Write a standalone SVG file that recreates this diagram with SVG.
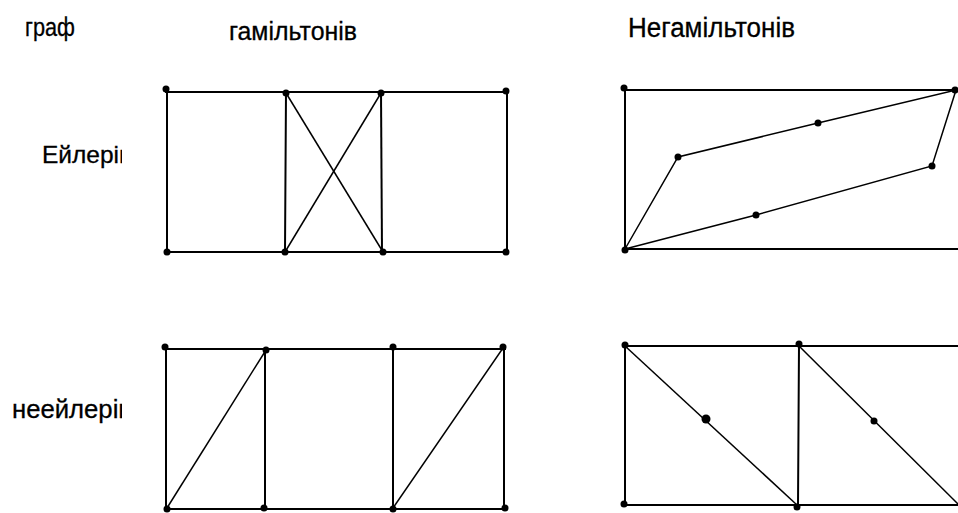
<svg xmlns="http://www.w3.org/2000/svg" width="958" height="513" viewBox="0 0 958 513">
<style>
.e{stroke:#000;stroke-width:2;fill:none;stroke-linecap:square}
.d{stroke:#000;stroke-width:1.5;fill:none}
.v{fill:#000}
.t{font-family:"Liberation Sans",Arial,sans-serif;fill:#000;stroke:#000;stroke-width:0.3}
</style>
<defs>
<clipPath id="clipL"><rect x="0" y="0" width="122" height="513"/></clipPath>
</defs>
<rect width="958" height="513" fill="#fff"/>
<g id="labels" class="t">
<text x="25" y="36" font-size="25" textLength="50" lengthAdjust="spacingAndGlyphs">граф</text>
<text x="229" y="40" font-size="25" textLength="128" lengthAdjust="spacingAndGlyphs">гамільтонів</text>
<text x="628" y="37" font-size="27" textLength="167" lengthAdjust="spacingAndGlyphs">Негамільтонів</text>
<g clip-path="url(#clipL)">
<text x="42" y="163" font-size="24" textLength="90" lengthAdjust="spacingAndGlyphs">Ейлерів</text>
<text x="12" y="418" font-size="25" textLength="120" lengthAdjust="spacingAndGlyphs">неейлерів</text>
</g>
</g>
<g id="connectors">
<line class="e" x1="166" y1="92" x2="507" y2="92"/>
<line class="e" x1="167" y1="252" x2="507" y2="252"/>
<line class="e" x1="167" y1="90" x2="167" y2="252"/>
<line class="e" x1="286" y1="92" x2="285" y2="252"/>
<line class="e" x1="381" y1="92" x2="382" y2="252"/>
<line class="e" x1="507" y1="90" x2="507" y2="252"/>
<line class="d" x1="286" y1="93" x2="383" y2="252"/>
<line class="d" x1="381" y1="93" x2="285" y2="252"/>
<line class="e" x1="625" y1="90" x2="958" y2="90"/>
<line class="e" x1="625" y1="249" x2="958" y2="249"/>
<line class="e" x1="625" y1="88" x2="625" y2="249"/>
<polyline class="d" points="625,249 678,157 818,123 956,90 932,166 756,215 625,249"/>
<line class="e" x1="166" y1="349" x2="505" y2="349"/>
<line class="e" x1="166" y1="509" x2="505" y2="509"/>
<line class="e" x1="166" y1="348" x2="166" y2="509"/>
<line class="e" x1="265" y1="349" x2="265" y2="509"/>
<line class="e" x1="393" y1="348" x2="393" y2="509"/>
<line class="e" x1="504" y1="348" x2="504" y2="509"/>
<line class="d" x1="167" y1="508" x2="266" y2="350"/>
<line class="d" x1="393" y1="508" x2="503" y2="348"/>
<line class="e" x1="625" y1="346" x2="958" y2="346"/>
<line class="e" x1="625" y1="505" x2="958" y2="505"/>
<line class="e" x1="625" y1="345" x2="625" y2="505"/>
<line class="e" x1="799" y1="345" x2="798" y2="506"/>
<line class="d" x1="625" y1="346" x2="797" y2="505"/>
<line class="d" x1="799" y1="346" x2="958" y2="504"/>
</g>
<g id="nodes" class="v">
<g id="g1a"><circle cx="166" cy="89" r="3.5"/></g>
<g id="g1b"><circle cx="286" cy="93" r="3.5"/></g>
<g id="g1c"><circle cx="381" cy="93" r="3.5"/></g>
<g id="g1d"><circle cx="506" cy="91" r="3.5"/></g>
<g id="g1e"><circle cx="167" cy="252" r="3.5"/></g>
<g id="g1f"><circle cx="285" cy="252" r="3.5"/></g>
<g id="g1g"><circle cx="383" cy="252" r="3.5"/></g>
<g id="g1h"><circle cx="506" cy="252" r="3.5"/></g>
<g id="g2a"><circle cx="624" cy="88" r="3.5"/></g>
<g id="g2b"><circle cx="625" cy="250" r="3.5"/></g>
<g id="g2c"><circle cx="678" cy="157" r="3.5"/></g>
<g id="g2d"><circle cx="818" cy="123" r="3.5"/></g>
<g id="g2e"><circle cx="955" cy="90" r="3.5"/></g>
<g id="g2f"><circle cx="932" cy="166" r="3.5"/></g>
<g id="g2g"><circle cx="756" cy="215" r="3.5"/></g>
<g id="g3a"><circle cx="165" cy="347" r="3.5"/></g>
<g id="g3b"><circle cx="266" cy="350" r="3.5"/></g>
<g id="g3c"><circle cx="393" cy="347" r="3.5"/></g>
<g id="g3d"><circle cx="503" cy="347" r="3.5"/></g>
<g id="g3e"><circle cx="167" cy="509" r="3.5"/></g>
<g id="g3f"><circle cx="264" cy="508" r="3.5"/></g>
<g id="g3g"><circle cx="393" cy="509" r="3.5"/></g>
<g id="g3h"><circle cx="505" cy="508" r="3.5"/></g>
<g id="g4a"><circle cx="625" cy="345" r="3.5"/></g>
<g id="g4b"><circle cx="799" cy="344" r="3.5"/></g>
<g id="g4c"><circle cx="624" cy="504" r="3.5"/></g>
<g id="g4d"><circle cx="797" cy="507" r="3.5"/></g>
<g id="g4e"><circle cx="706" cy="419" r="4.5"/></g>
<g id="g4f"><circle cx="874" cy="421" r="3.5"/></g>
</g>
</svg>
